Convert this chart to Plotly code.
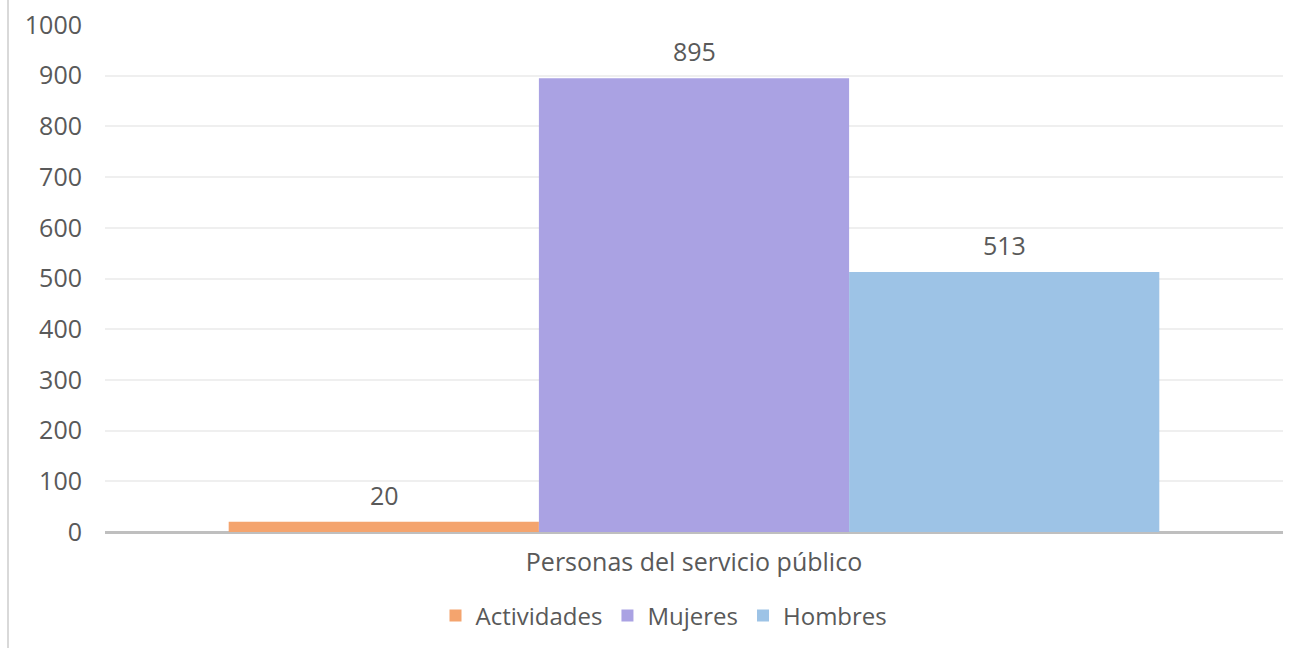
import plotly.graph_objects as go

categories = ["Personas del servicio público"]
series_names = ["Actividades", "Mujeres", "Hombres"]
series_values = [[20], [895], [513]]
series_colors = ["#F4A46E", "#AAA2E3", "#9DC3E6"]
y_ticks = [0, 100, 200, 300, 400, 500, 600, 700, 800, 900, 1000]

font_family = "'Open Sans', Lato, sans-serif"
text_color = "#595959"
font_size = 25

fig = go.Figure()
for name, vals, color in zip(series_names, series_values, series_colors):
    fig.add_trace(go.Bar(
        name=name,
        x=categories,
        y=vals,
        marker=dict(color=color, line=dict(width=0)),
    ))

# value labels above each bar, offset sideways to each bar of the group
bar_px = 310
annotations = []
for i, vals in enumerate(series_values):
    for cat, v in zip(categories, vals):
        annotations.append(dict(
            x=cat, y=v, xref="x", yref="y",
            text=str(v), showarrow=False,
            xshift=(i - 1) * bar_px,
            yanchor="bottom", yshift=8,
            font=dict(size=font_size, color=text_color, family=font_family),
        ))

fig.update_layout(
    width=1299,
    height=648,
    margin=dict(l=105, r=16, t=25, b=116, autoexpand=False),
    paper_bgcolor="white",
    plot_bgcolor="white",
    barmode="group",
    bargap=0.21,
    bargroupgap=0,
    font=dict(family=font_family, size=font_size, color=text_color),
    showlegend=True,
    legend=dict(
        orientation="h",
        xref="container",
        x=664 / 1299,
        xanchor="center",
        yref="container",
        y=(648 - 616) / 648,
        yanchor="middle",
        font=dict(size=24, color=text_color),
        itemwidth=30,
        traceorder="normal",
    ),
    xaxis=dict(
        showgrid=False,
        showline=False,
        ticks="",
        ticklabelstandoff=13,
        tickfont=dict(size=font_size, color=text_color),
    ),
    yaxis=dict(
        range=[0, 1000],
        tickvals=y_ticks,
        ticktext=[str(t) for t in y_ticks],
        showgrid=True,
        gridcolor="#EFEFEF",
        gridwidth=2,
        zeroline=True,
        zerolinecolor="#BFBFBF",
        zerolinewidth=3,
        showline=False,
        ticks="",
        ticklabelstandoff=22,
        tickfont=dict(size=font_size, color=text_color),
    ),
    annotations=annotations,
    shapes=[
        dict(
            type="line",
            xref="paper", yref="paper",
            x0=-97 / 1178, x1=-97 / 1178,
            y0=-0.3, y1=1.1,
            line=dict(color="#D9D9D9", width=2),
        )
    ],
)

fig.write_html("out.html")
